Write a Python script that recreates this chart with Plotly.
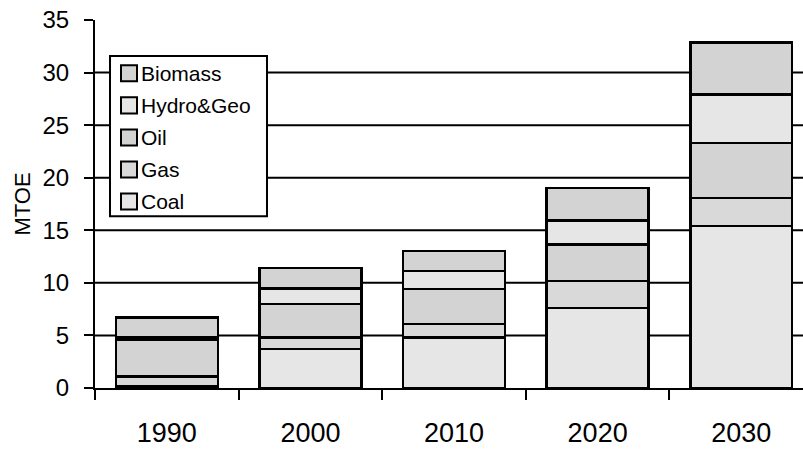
import plotly.graph_objects as go

# Primary energy supply by source, million tonnes of oil equivalent
years = ["1990", "2000", "2010", "2020", "2030"]
coal = [0.2, 3.7, 4.8, 7.6, 15.4]
gas = [0.9, 1.1, 1.3, 2.6, 2.65]
oil = [3.5, 3.2, 3.3, 3.45, 5.25]
hydro_geo = [0.2, 1.45, 1.75, 2.3, 4.6]
biomass = [1.9, 1.95, 1.9, 3.05, 4.95]

series_names = ["Coal", "Gas", "Oil", "Hydro&Geo", "Biomass"]
series_values = [coal, gas, oil, hydro_geo, biomass]
series_colors = ["#e6e6e6", "#d9d9d9", "#d3d3d3", "#e6e6e6", "#d3d3d3"]

y_ticks = [0, 5, 10, 15, 20, 25, 30, 35]
grid_values = [5, 10, 15, 20, 25, 30]

FONT = "Liberation Sans, Arial, sans-serif"

fig = go.Figure()
for name, vals, col in zip(series_names, series_values, series_colors):
    fig.add_trace(go.Bar(
        x=years, y=vals, name=name, width=0.71,
        marker=dict(color=col, line=dict(color="black", width=2.5)),
        showlegend=False,
    ))

# Horizontal gridlines, kept behind the bars
shapes = []
for g in grid_values:
    shapes.append(dict(type="line", xref="paper", yref="y", x0=0, x1=1, y0=g, y1=g,
                       line=dict(color="black", width=2), layer="below"))

# Boxed legend: frame, swatches and labels (top row is the top of the stack)
PLOT_L, PLOT_W, PLOT_B, PLOT_H = 95, 708, 387.7, 367.7
def px_x(p):
    return (p - PLOT_L) / PLOT_W
def px_y(p):
    return (PLOT_B - p) / PLOT_H

shapes.append(dict(type="rect", xref="paper", yref="paper",
                   x0=px_x(110), x1=px_x(267), y0=px_y(216), y1=px_y(56),
                   fillcolor="white", line=dict(color="black", width=2), layer="above"))

annotations = []
legend_order = list(zip(series_names, series_colors))[::-1]
for i, (name, col) in enumerate(legend_order):
    cy = 73.3 + i * 32
    shapes.append(dict(type="rect", xref="paper", yref="paper",
                       x0=px_x(121), x1=px_x(137), y0=px_y(cy + 8), y1=px_y(cy - 8),
                       fillcolor=col, line=dict(color="black", width=2), layer="above"))
    annotations.append(dict(text=name, xref="paper", yref="paper",
                            x=px_x(139), y=px_y(cy), xanchor="left", yanchor="middle",
                            showarrow=False, font=dict(family=FONT, size=21, color="black")))

fig.update_layout(
    width=803, height=449,
    margin=dict(l=95, r=0, t=20, b=61),
    paper_bgcolor="white", plot_bgcolor="white",
    barmode="stack", bargap=0.29,
    font=dict(family=FONT, color="black"),
    shapes=shapes, annotations=annotations,
    xaxis=dict(
        type="category", range=[-0.5, 4.43],
        tickson="boundaries", ticks="outside", ticklen=10, tickwidth=2, tickcolor="black",
        showline=True, linewidth=2, linecolor="black", showgrid=False,
        tickfont=dict(family=FONT, size=27, color="black"),
        ticklabelstandoff=20,
    ),
    yaxis=dict(
        range=[0, 35], tickvals=y_ticks,
        ticks="outside", ticklen=9, tickwidth=2, tickcolor="black",
        showline=True, linewidth=2, linecolor="black", showgrid=False, zeroline=False,
        tickfont=dict(family=FONT, size=24, color="black"),
        ticklabelstandoff=10,
        title=dict(text="MTOE", standoff=6,
                   font=dict(family="Liberation Sans Narrow, Liberation Sans, Arial", size=22, color="black")),
    ),
)

fig.write_html("out.html")
